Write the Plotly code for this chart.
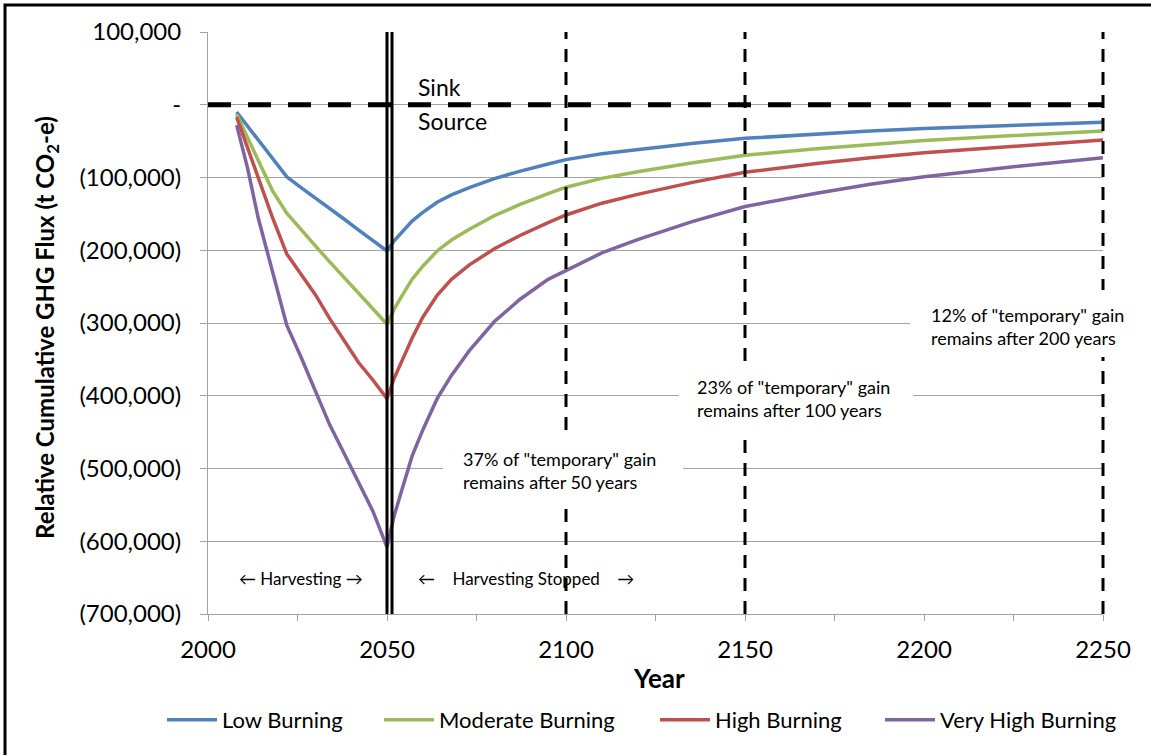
import plotly.graph_objects as go

# ---- data -------------------------------------------------------------
years = [2008, 2011, 2014, 2018, 2022, 2026, 2030, 2034, 2038, 2042, 2046, 2050,
         2052, 2054, 2057, 2060, 2064, 2068, 2073, 2080, 2087, 2095, 2100,
         2110, 2120, 2135, 2150, 2170, 2185, 2200, 2225, 2250]

low_burning = [-10000, -29000, -48000, -73000, -99000, -114000, -128000, -143000,
               -157000, -172000, -186000, -201000,
               -187000, -176000, -160000, -148000, -134000, -124000, -114000,
               -101500, -91500, -81500, -75400,
               -67300, -61300, -53300, -46200, -40200, -36200, -32800, -28100, -24100]

moderate_burning = [-13000, -45000, -77000, -118000, -149000, -172000, -194000, -216000,
                    -237000, -258000, -280000, -302000,
                    -281000, -264000, -240000, -222000, -201000, -186000, -171000,
                    -152500, -137400, -122300, -113300,
                    -101200, -92100, -80000, -69500, -60400, -54400, -49200, -42300, -36200]

high_burning = [-17000, -58000, -100000, -155000, -205000, -233000, -261000, -294000,
                -325000, -354000, -378000, -404000,
                -376000, -353500, -321000, -292000, -262000, -240000, -220000,
                -198000, -180000, -162000, -151500,
                -135300, -123200, -107000, -92900, -80800, -72700, -65900, -56600, -48500]

very_high_burning = [-28000, -86000, -155000, -230000, -303000, -347000, -392000, -440000,
                     -479000, -519000, -558000, -608000,
                     -565000, -532000, -483000, -447000, -404000, -372000, -338000,
                     -298000, -268000, -240000, -228000,
                     -203700, -185400, -161000, -139800, -121600, -109400, -99100, -85100, -73000]

series_names = ["Low Burning", "Moderate Burning", "High Burning", "Very High Burning"]
series_values = [low_burning, moderate_burning, high_burning, very_high_burning]
series_colors = ["#4F81BD", "#9BBB59", "#C0504D", "#8064A2"]

y_ticks = [100000, 0, -100000, -200000, -300000, -400000, -500000, -600000, -700000]
y_tick_text = ["100,000", "-", "(100,000)", "(200,000)", "(300,000)", "(400,000)",
               "(500,000)", "(600,000)", "(700,000)"]

harvest_end = [2050, 2051.4]          # double line marking end of harvesting
horizon_years = [2100, 2150, 2250]    # 50, 100 and 200 years after harvesting stops

# ---- layout helpers (pixel -> paper) ----------------------------------
W, H = 1151, 755
L, R, T, B = 208, 48, 32, 141
PW, PH = W - L - R, H - T - B
X0, X1 = 2000, 2250


def px(x):
    return (x - L) / PW


def py(y):
    return (H - B - y) / PH


def year_paper(yr):
    return (yr - X0) / (X1 - X0)


FONT = "Lato, 'Open Sans', sans-serif"
GRID = "#a3a3a3"

# one legend box per series so each entry sits at its own spot
legend_ids = ["legend", "legend2", "legend3", "legend4"]
legend_left = [162, 379, 655, 880]

fig = go.Figure()
for name, vals, col, lid in zip(series_names, series_values, series_colors, legend_ids):
    fig.add_trace(go.Scatter(x=years, y=vals, name=name, mode="lines", legend=lid,
                             showlegend=True, line=dict(color=col, width=3.5)))

shapes = []
# sink/source boundary
shapes.append(dict(type="line", xref="x", yref="y", x0=X0, x1=X1, y0=0, y1=0,
                   line=dict(color="black", width=5, dash="23px,17px"), layer="above"))
# horizons after harvesting stops (paper x so the edge line is not clipped)
for yr in horizon_years:
    shapes.append(dict(type="line", xref="paper", yref="y",
                       x0=year_paper(yr), x1=year_paper(yr),
                       y0=-700000, y1=100000,
                       line=dict(color="black", width=3, dash="13px,10px"), layer="above"))
for yr in harvest_end:
    shapes.append(dict(type="line", xref="paper", yref="y",
                       x0=year_paper(yr), x1=year_paper(yr),
                       y0=-700000, y1=100000,
                       line=dict(color="black", width=3), layer="above"))
# white label boxes
for (x0, y0, x1, y1) in [(443, 437, 683, 503), (679, 362, 913, 432), (910, 290, 1146, 357)]:
    shapes.append(dict(type="rect", xref="paper", yref="paper",
                       x0=px(x0), x1=px(x1), y0=py(y1), y1=py(y0),
                       fillcolor="white", line=dict(width=0), layer="above"))
# outer frame
shapes.append(dict(type="rect", xref="paper", yref="paper",
                   x0=px(5), x1=px(1175), y0=py(780), y1=py(5),
                   line=dict(color="black", width=3), fillcolor="rgba(0,0,0,0)",
                   layer="above"))

ann = []


def note(text, x, y, size, xanchor="left", yanchor="middle", bold=False, angle=0, align="left"):
    ann.append(dict(text=f"<b>{text}</b>" if bold else text, xref="paper", yref="paper",
                    x=x, y=y, xanchor=xanchor, yanchor=yanchor, showarrow=False,
                    textangle=angle, align=align,
                    font=dict(family=FONT, size=size, color="black")))


note("Sink", px(416), py(87), 23)
note("Source", px(416), py(121), 23)
note("\u2190 Harvesting \u2192", px(301), py(578), 17, xanchor="center")
note("\u2190\u00a0\u00a0\u00a0 Harvesting Stopped \u00a0\u00a0\u00a0\u2192", px(416), py(578), 17)
note('37% of "temporary" gain<br>remains after 50 years', px(461), py(470), 18)
note('23% of "temporary" gain<br>remains after 100 years', px(695), py(398), 18)
note('12% of "temporary" gain<br>remains after 200 years', px(929), py(326), 18)
note("Relative Cumulative GHG Flux (t CO<sub>2</sub>-e)", px(46), py(328), 24,
     xanchor="center", bold=True, angle=-90, align="center")
note("Year", px(659), py(678), 26, xanchor="center", bold=True, align="center")

legends = {}
for lid, left in zip(legend_ids, legend_left):
    legends[lid] = dict(orientation="h", x=px(left), xanchor="left", y=py(720),
                        yanchor="middle", font=dict(family=FONT, size=22, color="black"),
                        itemwidth=50, bgcolor="rgba(0,0,0,0)", visible=True)

fig.update_layout(
    width=W, height=H,
    margin=dict(l=L, r=R, t=T, b=B, pad=0),
    plot_bgcolor="white", paper_bgcolor="white",
    font=dict(family=FONT, color="black"),
    showlegend=True,
    shapes=shapes, annotations=ann,
    xaxis=dict(range=[X0, X1], tick0=2000, dtick=50,
               showgrid=False, zeroline=False, showline=True, linecolor=GRID, linewidth=1,
               ticks="outside", ticklen=6, tickcolor=GRID, ticklabelstandoff=8,
               minor=dict(dtick=25, ticks="outside", ticklen=6, tickcolor=GRID,
                          showgrid=False),
               tickfont=dict(family=FONT, size=24, color="black")),
    yaxis=dict(range=[-700000, 100000], tickvals=y_ticks, ticktext=y_tick_text,
               showgrid=True, gridcolor=GRID, gridwidth=1, zeroline=False,
               showline=True, linecolor=GRID, linewidth=1,
               ticks="outside", ticklen=7, tickcolor=GRID, ticklabelstandoff=14,
               tickfont=dict(family=FONT, size=24, color="black")),
    **legends,
)

fig.write_html("out.html")
